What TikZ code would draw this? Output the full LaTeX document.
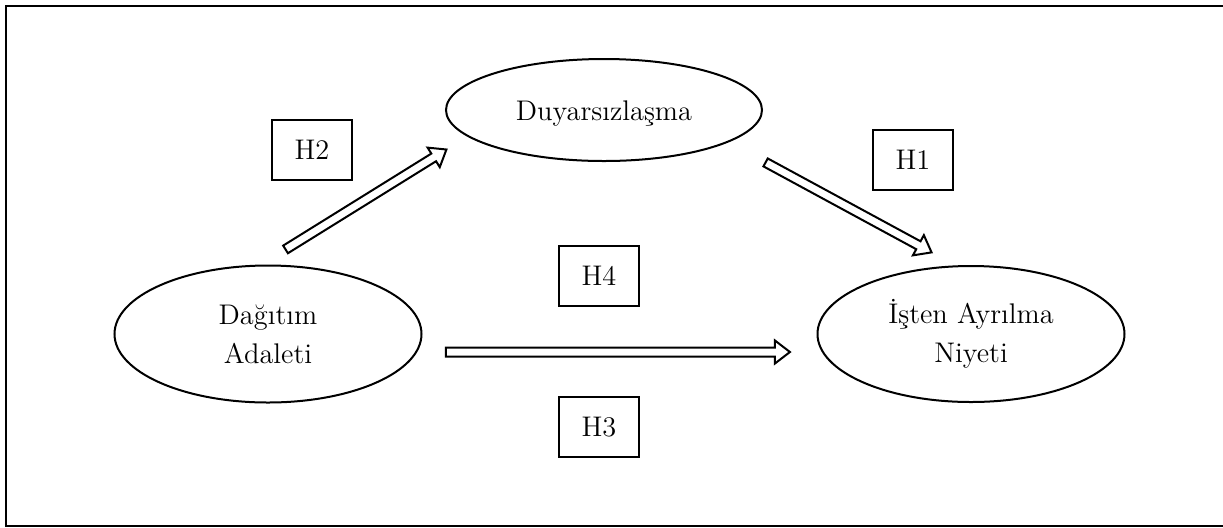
\documentclass[tikz,border=0pt]{standalone}
\usetikzlibrary{shapes.geometric,shapes.arrows,calc}
\begin{document}
\begin{tikzpicture}[x=0.5pt,y=-0.5pt,
  oval/.style={draw,ellipse,line width=1pt,inner sep=0pt,align=center,
    font=\fontsize{14.2}{19.5}\selectfont},
  hbox/.style={draw,line width=1pt,minimum width=40pt,minimum height=30pt,
    inner sep=0pt,font=\fontsize{14.2}{16}\selectfont},
  hollow/.style={to path={let \p1=(\tikztostart),\p2=(\tikztotarget),
    \n1={atan2(\y2-\y1,\x2-\x1)},\n2={veclen(\x2-\x1,\y2-\y1)} in
    ($(\p1)!0.5!(\p2)$) node[single arrow,draw,fill=white,line width=1pt,
      inner xsep=0pt,inner ysep=1.75pt,minimum width=0pt,minimum height=\n2,
      single arrow head extend=3.5pt,single arrow head indent=0pt,
      single arrow tip angle=75,rotate=\n1]{}}}]
  % frame
  \useasboundingbox (0,0) rectangle (1223,527);
  \draw[line width=1.4pt] (6,6) rectangle (1240,526);

  % constructs
  \node[oval,minimum width=158pt,minimum height=51pt] (dy) at (604,110)
    {\raisebox{-5pt}[0pt][0pt]{Duyarsızlaşma}};
  \node[oval,minimum width=153.5pt,minimum height=68.5pt] (da) at (268,334)
    {Dağıtım\\Adaleti};
  \node[oval,minimum width=153.5pt,minimum height=68pt] (ia) at (971,334)
    {İşten Ayrılma\\Niyeti};

  % hypotheses
  \node[hbox] (h2) at (312,150) {H2};
  \node[hbox] (h1) at (913,160) {H1};
  \node[hbox] (h4) at (599,276) {H4};
  \node[hbox] (h3) at (599,427) {H3};

  % arrow ends
  \coordinate (a2s) at (283,251);
  \coordinate (a2e) at (444,151);
  \coordinate (a1s) at (763,161);
  \coordinate (a1e) at (929,251);
  \coordinate (a3s) at (443,352);
  \coordinate (a3e) at (787,352);

  % paths
  \path[hollow] (a2s) to (a2e);
  \path[hollow] (a1s) to (a1e);
  \path[hollow] (a3s) to (a3e);
\end{tikzpicture}
\end{document}
